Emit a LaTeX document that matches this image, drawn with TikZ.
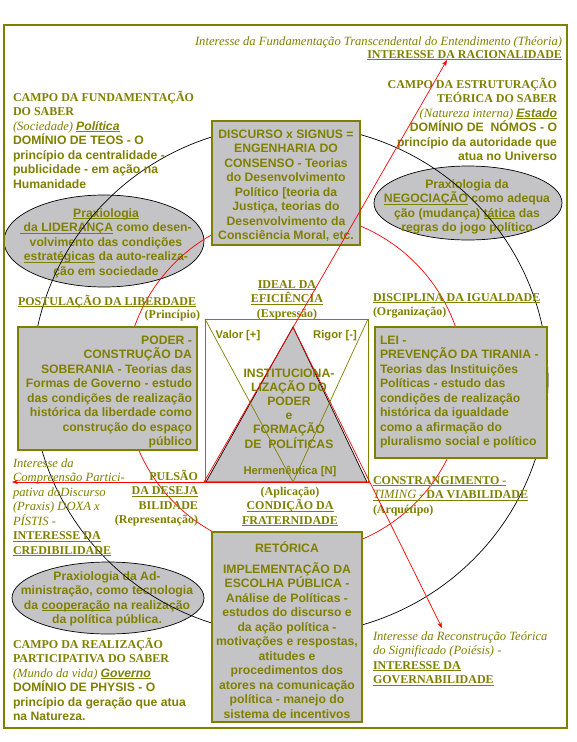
\documentclass[tikz,border=0pt]{standalone}
\usepackage{fontspec}
\setmainfont{Liberation Serif}
\setsansfont{Liberation Sans}
\usetikzlibrary{arrows.meta,shapes.geometric}
\definecolor{ol}{RGB}{128,128,0}
\definecolor{sil}{RGB}{196,196,198}
\newsavebox\ULbox
\newcommand\UL[1]{\leavevmode\sbox\ULbox{#1}\rlap{\rule[-2.3pt]{\wd\ULbox}{0.9pt}}\usebox\ULbox}
\newcommand\SB{\fontsize{12.2}{14.5}\selectfont\sffamily\bfseries\upshape}
\newcommand\SBI{\fontsize{12.2}{14.5}\selectfont\sffamily\bfseries\itshape}
\newcommand\RB{\fontsize{12}{14.5}\selectfont\rmfamily\bfseries\upshape}
\newcommand\RI{\fontsize{12.6}{14.5}\selectfont\rmfamily\mdseries\itshape}
\newcommand\HS{\fontsize{11.2}{14.5}\selectfont\sffamily\bfseries\upshape}
\newcommand\BL[2]{\parbox[t]{#1}{\lineskiplimit=-100pt\raggedright #2}}
\newcommand\BR[2]{\parbox[t]{#1}{\lineskiplimit=-100pt\raggedleft #2}}
\newcommand\BC[2]{\parbox[t]{#1}{\lineskiplimit=-100pt\centering #2}}
\tikzset{
  tx/.style={inner sep=0pt,outer sep=0pt,text=ol},
  boxn/.style={rectangle,draw=ol,line width=2.2pt,fill=sil,inner sep=0pt},
  elln/.style={ellipse,draw=black,line width=0.7pt,fill=sil,inner sep=0pt},
  hair/.style={line width=0.7pt},
  rarr/.style={red,line width=0.7pt,-{Stealth[length=6pt,width=4.5pt]}}
}
\begin{document}
\begin{tikzpicture}[x=1pt,y=-1pt]
\useasboundingbox (0,0) rectangle (576,742);
\fill[white] (0,0) rectangle (576,742);
% praxiology ellipses
\node[elln,minimum width=200pt,minimum height=92pt] (eL) at (104,241) {};
\node[elln,minimum width=188pt,minimum height=74pt] (eR) at (468,203) {};
\node[elln,minimum width=192pt,minimum height=72pt] (eB) at (108,598) {};
\node[tx,anchor=base] (tEL) at (106,217) {\BC{220pt}{\SB\UL{Praxiologia}\\ \UL{~da LIDERANÇA} como desen-\\ volvimento das condições\\ \UL{estratégicas} da auto-realiza-\\ ção em sociedade}};
\node[tx,anchor=base] (tER) at (467,188) {\BC{200pt}{\SB Praxiologia da\\ \UL{NEGOCIAÇÃO} como adequa\\ ção (mudança) \UL{tática} das\\ regras do jogo político}};
\node[tx,anchor=base] (tEB) at (107,580) {\BC{220pt}{\SB Praxiologia da Ad-\\ ministração, como tecnologia\\ da \UL{cooperação} na realização\\ da política pública.}};
% circles
\draw[hair] (290,380) ellipse [x radius=258pt,y radius=255pt];
\draw[hair,red] (295,383) circle [radius=170pt];
% boxes
\node[boxn,minimum width=148pt,minimum height=124pt] (bD) at (286,183) {};
\node[boxn,minimum width=179pt,minimum height=123pt] (bP) at (107.5,388.5) {};
\node[boxn,minimum width=172pt,minimum height=131pt] (bL) at (461,392.5) {};
\node[boxn,minimum width=150pt,minimum height=190pt] (bR) at (287,627) {};
\node[tx,anchor=base] (tD) at (286,138) {\BC{150pt}{\SB DISCURSO x SIGNUS =\\ ENGENHARIA DO\\ CONSENSO - Teorias\\ do Desenvolvimento\\ Político [teoria da\\ Justiça, teorias do\\ Desenvolvimento da\\ Consciência Moral, etc.}};
\node[tx,anchor=base east] (tP) at (192,344) {\BR{180pt}{\SB PODER -\\ CONSTRUÇÃO DA\\ SOBERANIA - Teorias das\\ Formas de Governo - estudo\\ das condições de realização\\ histórica da liberdade como\\ construção do espaço\\ público}};
\node[tx,anchor=base west] (tL) at (380,344) {\BL{170pt}{\SB LEI -\\ PREVENÇÃO DA TIRANIA -\\ Teorias das Instituições\\ Políticas - estudo das\\ condições de realização\\ histórica da igualdade\\ como a afirmação do\\ pluralismo social e político}};
\node[tx,anchor=base] (tRe) at (287,552) {\SB RETÓRICA};
\node[tx,anchor=base] (tRe2) at (287,573) {\BC{150pt}{\SB IMPLEMENTAÇÃO DA\\ ESCOLHA PÚBLICA -\\ Análise de Políticas -\\ estudos do discurso e\\ da ação política -\\ motivações e respostas,\\ atitudes e\\ procedimentos dos\\ atores na comunicação\\ política - manejo do\\ sistema de incentivos}};
% square and triangle
\coordinate (sq1) at (205,319);
\coordinate (sq2) at (368,319);
\coordinate (sq3) at (368,482);
\coordinate (sqm) at (293,482);
\coordinate (ta) at (293,327);
\coordinate (tb) at (206,482);
\coordinate (tc) at (367,482);
\draw[hair,ol] (sq1) rectangle (sq3);
\draw[hair,fill=sil] (ta) -- (tb) -- (tc) -- cycle;
\draw[hair,ol] (sq1) -- (sqm) -- (sq2);
\node[tx,anchor=base] (tVa) at (238,338) {\HS Valor [+]};
\node[tx,anchor=base] (tRi) at (335,338) {\HS Rigor [-]};
\node[tx,anchor=base] (tIn) at (289,377) {\BC{150pt}{\fontsize{12.2}{14.2}\selectfont\sffamily\bfseries INSTITUCIONA-\\ LIZAÇÃO DO\\ PODER\\ e\\ FORMAÇÃO\\ DE\ \ POLÍTICAS}};
\node[tx,anchor=base] (tHe) at (290,474) {\HS Hermenêutica [N]};
% free texts
\node[tx,anchor=base east] (tT1) at (562,45) {\RI Interesse da Fundamentação Transcendental do Entendimento (Théoria)};
\node[tx,anchor=base east] (tT2) at (562,58) {\RB\UL{INTERESSE DA RACIONALIDADE}};
\node[tx,anchor=base east] (tCR) at (557,88) {\BR{250pt}{\RB CAMPO DA ESTRUTURAÇÃO\\ TEÓRICA DO SABER\\ {\RI (Natureza interna)} {\SBI\UL{Estado}}\\ \SB DOMÍNIO DE\ \ NÓMOS - O\\ princípio da autoridade que\\ atua no Universo}};
\node[tx,anchor=base west] (tCL) at (13,101) {\BL{250pt}{\RB CAMPO DA FUNDAMENTAÇÃO\\ DO SABER\\ {\RI (Sociedade)} {\SBI\UL{Política}}\\ \SB DOMÍNIO DE TEOS - O\\ princípio da centralidade -\\ publicidade - em ação na\\ Humanidade}};
\node[tx,anchor=base] (tI) at (287,288) {\BC{150pt}{\RB\UL{IDEAL DA}\\ \UL{EFICIÊNCIA}\\ (Expressão)}};
\node[tx,anchor=base west] (tPo) at (18,305) {\RB\UL{POSTULAÇÃO DA LIBERDADE}};
\node[tx,anchor=base east] (tPr) at (200,318) {\RB(Princípio)};
\node[tx,anchor=base west] (tDi) at (373,301) {\BL{200pt}{\RB\UL{DISCIPLINA DA IGUALDADE}\\ (Organização)}};
\node[tx,anchor=base east] (tPu) at (198,480) {\BR{150pt}{\RB PULSÃO\\ \UL{DA DESEJA}\\ BILIDADE\\ (Representação)}};
\node[tx,anchor=base] (tAp) at (290,495) {\BC{150pt}{\RB(Aplicação)\\ \UL{CONDIÇÃO DA}\\ \UL{FRATERNIDADE}}};
\node[tx,anchor=base west] (tCo) at (373,484) {\BL{200pt}{\RB\UL{CONSTRANGIMENTO -}\\ \UL{\RI TIMING}\UL{\RB\ - DA VIABILIDADE}\\ (Arquétipo)}};
\node[tx,anchor=base west] (tCP) at (13,467) {\BL{200pt}{\RI Interesse da\\ Compreensão Partici-\\ pativa doDiscurso\\ (Praxis) DOXA x\\ PÍSTIS -\\ \RB\UL{INTERESSE DA}\\ \UL{CREDIBILIDADE}}};
\node[tx,anchor=base west] (tCB) at (13,648) {\BL{250pt}{\RB CAMPO DA REALIZAÇÃO\\ PARTICIPATIVA DO SABER\\ {\RI (Mundo da vida)} {\SBI\UL{Governo}}\\ \SB DOMÍNIO DE PHYSIS - O\\ princípio da geração que atua\\ na Natureza.}};
\node[tx,anchor=base west] (tGo) at (373,640) {\BL{200pt}{\RI Interesse da Reconstrução Teórica\\ do Significado (Poiésis) -\\ \RB\UL{INTERESSE DA}\\ \UL{GOVERNABILIDADE}}};
% frame
\draw[ol,line width=2.5pt] (4,25) rectangle (567,728);
% red arrows
\coordinate (rA0) at (204,482);
\coordinate (rA1) at (447,60);
\coordinate (rB0) at (293,327);
\coordinate (rB1) at (442,628);
\coordinate (rC0) at (370,482);
\coordinate (rC1) at (12,482);
\draw[rarr] (rA0) -- (rA1);
\draw[rarr] (rB0) -- (rB1);
\draw[rarr] (rC0) -- (rC1);
\end{tikzpicture}
\end{document}
